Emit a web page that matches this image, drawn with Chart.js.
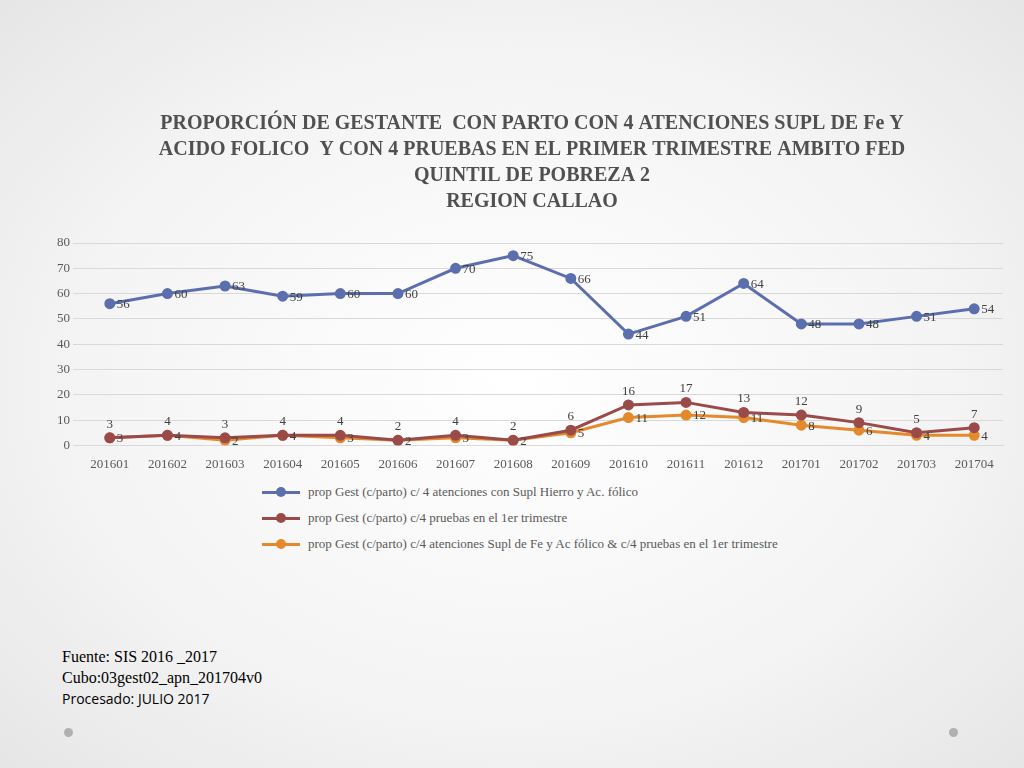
<!DOCTYPE html>
<html>
<head>
<meta charset="utf-8">
<script src="https://cdn.jsdelivr.net/npm/chart.js@4"></script>
<style>
  body { margin: 0; width: 1024px; height: 768px; background: radial-gradient(ellipse at center, #ffffff 0%, #f4f4f4 60%, #e6e6e6 100%); font-family: "Liberation Serif", serif; position: relative; overflow: hidden; }
  #wrap { position: absolute; left: 40px; top: 105px; width: 970px; height: 370px; }
  #legend { position: absolute; left: 262px; top: 484px; font-size: 13px; color: #595959; }
  #legend div { height: 26px; line-height: 16px; display: flex; align-items: flex-start; }
  #legend span.sw { display: inline-block; width: 38px; height: 16px; margin-right: 8px; position: relative; }
  #legend span.sw i { position: absolute; left: 0; right: 0; top: 7px; height: 3px; }
  #legend span.sw b { position: absolute; left: 14px; top: 3px; width: 10px; height: 10px; border-radius: 50%; }
  #foot { position: absolute; left: 62px; top: 646px; font-size: 16px; color: #000; line-height: 21px; }
  .dot { position: absolute; width: 9px; height: 9px; border-radius: 50%; background: #b0b0b0; }
</style>
</head>
<body>
<div class="dot" style="left:64px;top:728px"></div>
<div class="dot" style="left:949px;top:728px"></div>
<div id="wrap"><canvas id="myChart"></canvas></div>
<div id="legend"></div>
<div id="foot">Fuente: SIS 2016 _2017<br>Cubo:03gest02_apn_201704v0<br><span style="font-family:'Open Sans',sans-serif;font-size:14px">Procesado: JULIO 2017</span></div>
<script>
const meses = ['201601','201602','201603','201604','201605','201606','201607','201608','201609','201610','201611','201612','201701','201702','201703','201704'];
const suplHierro = [56,60,63,59,60,60,70,75,66,44,51,64,48,48,51,54];
const pruebas = [3,4,3,4,4,2,4,2,6,16,17,13,12,9,5,7];
const ambos = [3,4,2,4,3,2,3,2,5,11,12,11,8,6,4,4];
const nombres = [
  'prop Gest (c/parto) c/ 4 atenciones con Supl Hierro y Ac. fólico',
  'prop Gest (c/parto) c/4 pruebas en el 1er trimestre',
  'prop Gest (c/parto) c/4 atenciones Supl de Fe y Ac fólico & c/4 pruebas en el 1er trimestre'
];
const colores = ['#5b6fae', '#9b4a4a', '#e58a2c'];

// etiquetas de valores: azul y naranja a la derecha, rojo arriba
const etiquetas = {
  id: 'etiquetas',
  afterDatasetsDraw(chart) {
    const ctx = chart.ctx;
    ctx.save();
    ctx.font = '13px "Liberation Serif"';
    ctx.fillStyle = '#404040';
    chart.data.datasets.forEach((ds, i) => {
      chart.getDatasetMeta(i).data.forEach((pt, j) => {
        if (i === 1) {
          ctx.textAlign = 'center'; ctx.textBaseline = 'bottom';
          ctx.fillText(ds.data[j], pt.x, pt.y - 7);
        } else {
          ctx.textAlign = 'left'; ctx.textBaseline = 'middle';
          ctx.fillText(ds.data[j], pt.x + 7, pt.y + 1);
        }
      });
    });
    ctx.restore();
  }
};

let legend = document.getElementById('legend');
nombres.forEach((n, i) => {
  legend.innerHTML += '<div><span class="sw"><i style="background:' + colores[i] + '"></i><b style="background:' + colores[i] + '"></b></span>' + n + '</div>';
});

new Chart(document.getElementById('myChart'), {
  type: 'line',
  data: {
    labels: meses,
    datasets: [suplHierro, pruebas, ambos].map((d, i) => ({
      label: nombres[i], data: d, borderColor: colores[i], backgroundColor: colores[i],
      borderWidth: 3, pointRadius: 4, pointHoverRadius: 4, tension: 0
    }))
  },
  options: {
    responsive: true, maintainAspectRatio: false, animation: false,
    layout: { padding: { left: 14, right: 0, top: 0, bottom: 0 } },
    plugins: {
      legend: { display: false },
      tooltip: { enabled: false },
      title: {
        display: true,
        text: ['PROPORCIÓN DE GESTANTE  CON PARTO CON 4 ATENCIONES SUPL DE Fe Y', 'ACIDO FOLICO  Y CON 4 PRUEBAS EN EL PRIMER TRIMESTRE AMBITO FED', 'QUINTIL DE POBREZA 2', 'REGION CALLAO'],
        color: '#505050', font: { family: 'Liberation Serif', size: 20, weight: 'bold', lineHeight: 1.3 },
        padding: { top: 6, bottom: 28 }
      }
    },
    scales: {
      x: { offset: true, grid: { display: false }, border: { color: '#d9d9d9' }, ticks: { color: '#595959', font: { family: 'Liberation Serif', size: 13 } } },
      y: { min: 0, max: 80, ticks: { stepSize: 10, color: '#595959', font: { family: 'Liberation Serif', size: 13 } }, grid: { color: '#d9d9d9' }, border: { display: false } }
    }
  },
  plugins: [etiquetas]
});
</script>
</body>
</html>
